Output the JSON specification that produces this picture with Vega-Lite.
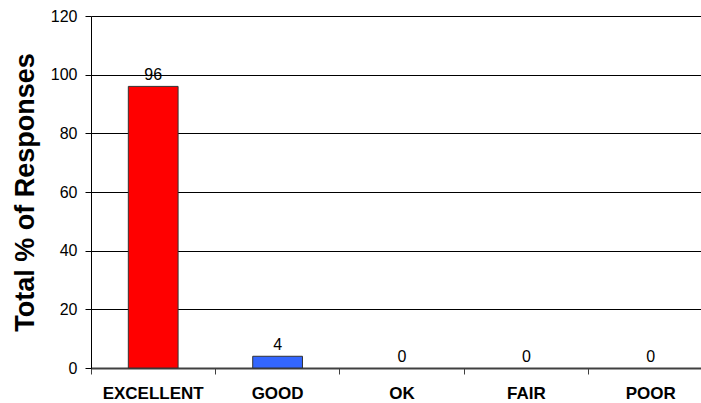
{
  "$schema": "https://vega.github.io/schema/vega-lite/v6.json",
  "width": 610,
  "height": 352,
  "autosize": "none",
  "padding": {"left": 91, "top": 16, "right": 0, "bottom": 35},
  "background": "white",
  "config": {"font": "Liberation Sans", "view": {"stroke": null}},
  "data": {
    "values": [
      {"rating": "EXCELLENT", "value": 96},
      {"rating": "GOOD", "value": 4},
      {"rating": "OK", "value": 0},
      {"rating": "FAIR", "value": 0},
      {"rating": "POOR", "value": 0}
    ]
  },
  "encoding": {
    "x": {
      "field": "rating",
      "type": "nominal",
      "sort": null,
      "scale": {"range": [0, 622], "paddingInner": 0, "paddingOuter": 0},
      "axis": {
        "title": null,
        "labelAngle": 0,
        "labelFont": "Liberation Sans",
        "labelFontSize": 17,
        "labelFontWeight": "bold",
        "labelColor": "black",
        "labelPadding": 11,
        "bandPosition": 0,
        "tickSize": 6,
        "tickColor": "#404040",
        "domainColor": "#404040",
        "domainWidth": 2,
        "grid": false
      }
    },
    "y": {
      "field": "value",
      "type": "quantitative",
      "scale": {"domain": [0, 120], "nice": false},
      "axis": {
        "title": "Total % of Responses",
        "titleFont": "Liberation Sans",
        "titleFontSize": 27,
        "titleFontWeight": "bold",
        "titleColor": "black",
        "titleX": -58,
        "titleBaseline": "alphabetic",
        "values": [0, 20, 40, 60, 80, 100, 120],
        "labelFontSize": 16,
        "labelColor": "black",
        "labelPadding": 8,
        "tickSize": 6,
        "tickColor": "black",
        "domainColor": "black",
        "grid": true,
        "gridColor": "black",
        "gridOpacity": 1,
        "gridWidth": 1
      }
    }
  },
  "layer": [
    {
      "transform": [{"filter": "datum.value > 0"}],
      "mark": {"type": "bar", "width": {"band": 0.4}, "stroke": "#333333", "strokeWidth": 1},
      "encoding": {
        "color": {
          "field": "rating",
          "type": "nominal",
          "scale": {
            "domain": ["EXCELLENT", "GOOD", "OK", "FAIR", "POOR"],
            "range": ["#FF0000", "#3366FF", "#3366FF", "#3366FF", "#3366FF"]
          },
          "legend": null
        }
      }
    },
    {
      "mark": {"type": "text", "baseline": "bottom", "dy": -3, "fontSize": 16, "color": "black"},
      "encoding": {"text": {"field": "value", "type": "quantitative"}}
    }
  ]
}
